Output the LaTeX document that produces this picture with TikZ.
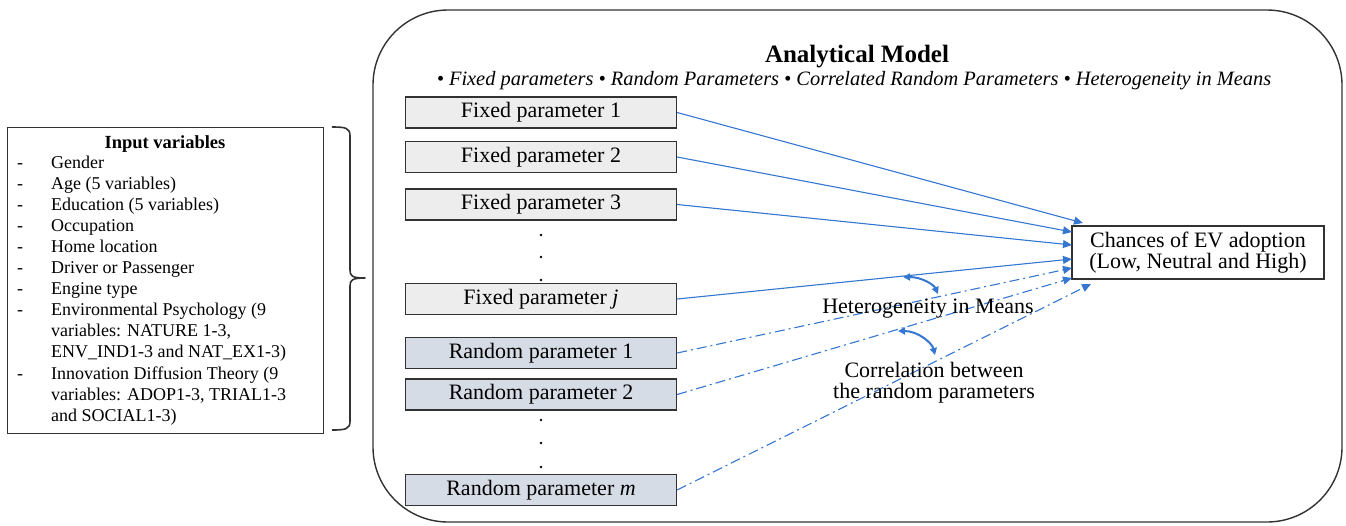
\documentclass[tikz,border=0pt]{standalone}
\usepackage{fontspec}
\setmainfont{Liberation Serif}
\usetikzlibrary{arrows.meta}
\definecolor{arrowblue}{RGB}{52,118,208}
\definecolor{fixfill}{RGB}{237,237,237}
\definecolor{randfill}{RGB}{214,220,229}
\definecolor{edge}{RGB}{50,50,50}
\tikzset{
  base font/.style={font=\fontsize{18}{21.3}\selectfont},
  big font/.style={font=\fontsize{22}{20.5}\selectfont},
  parbox/.style={draw=edge, line width=1.3pt, minimum width=271pt, minimum height=31pt, inner sep=0pt, big font},
  fixedbox/.style={parbox, fill=fixfill},
  randbox/.style={parbox, fill=randfill},
  solidarrow/.style={draw=arrowblue, line width=1.1pt, -{Triangle[length=9pt,width=8pt]}},
  dasharrow/.style={solidarrow, dash pattern=on 10pt off 4pt on 2pt off 4pt},
  bendarrow/.style={draw=arrowblue, line width=2pt, {Triangle[length=7pt,width=7pt]}-{Triangle[length=7pt,width=7pt]}},
  listtext/.style={anchor=base west, inner sep=0pt, base font},
  listdash/.style={anchor=base, inner sep=0pt, base font},
}
\begin{document}
\begin{tikzpicture}[x=1pt,y=-1pt]
\useasboundingbox (0,0) rectangle (1346,525);
% outer model frame
\draw[edge, line width=1.4pt, rounded corners=75pt] (373,10) rectangle (1342,522);
\node[font=\fontsize{25}{26}\selectfont\bfseries, anchor=base] (title) at (857,62) {Analytical Model};
\node[font=\fontsize{20.4}{22}\selectfont\itshape, anchor=base] (subtitle) at (854,85)
  {\textbullet\ Fixed parameters \textbullet\ Random Parameters \textbullet\ Correlated Random Parameters \textbullet\ Heterogeneity in Means};

% parameter boxes
\node[fixedbox] (f1) at (541,112.5) {Fixed parameter 1};
\node[fixedbox] (f2) at (541,157) {Fixed parameter 2};
\node[fixedbox] (f3) at (541,204.5) {Fixed parameter 3};
\node[fixedbox] (fj) at (541,299) {Fixed parameter \textit{j}};
\node[randbox] (r1) at (541,353) {Random parameter 1};
\node[randbox] (r2) at (541,394.5) {Random parameter 2};
\node[randbox] (rm) at (541,490) {Random parameter \textit{m}};
\foreach \yy in {235,257,280,420,443,467} \fill (541,\yy) circle (1.3pt);

% target
\node[draw=edge, line width=1.3pt, minimum width=252pt, minimum height=53pt, inner sep=0pt, align=center, big font] (tgt) at (1198,252.5)
  {Chances of EV adoption\\(Low, Neutral and High)};
\coordinate (t1) at (1083,223);
\coordinate (t2) at (1072,232);
\coordinate (t3) at (1072,245);
\coordinate (tj) at (1072,259);
\coordinate (t4) at (1072,268);
\coordinate (t5) at (1072,278);
\coordinate (t6) at (1091,284);

\draw[solidarrow] (f1.east) -- (t1);
\draw[solidarrow] (f2.east) -- (t2);
\draw[solidarrow] (f3.east) -- (t3);
\draw[solidarrow] (fj.east) -- (tj);
\draw[dasharrow] (r1.east) -- (t4);
\draw[dasharrow] (r2.east) -- (t5);
\draw[dasharrow] (rm.east) -- (t6);

% labels and curved arrows
\node[big font, anchor=base] (het) at (928,313) {Heterogeneity in Means};
\node[big font, anchor=base] (cor) at (934,377) {Correlation between};
\node[big font, anchor=base] (cor2) at (934,398) {the random parameters};
\coordinate (h1) at (903,277); \coordinate (h2) at (938,294);
\coordinate (c1) at (898,331); \coordinate (c2) at (935,355);
\draw[bendarrow] (h1) .. controls (922,277) and (934,285) .. (h2);
\draw[bendarrow] (c1) .. controls (918,331) and (932,343) .. (c2);

% input variables box
\node[draw=edge, line width=1.3pt, minimum width=316pt, minimum height=306pt, inner sep=0pt, anchor=north west] (inp) at (7,127) {};
\node[font=\fontsize{18.5}{21.3}\selectfont\bfseries, anchor=base, inner sep=0pt] (inptitle) at (165,148) {Input variables};
\foreach \i/\d/\t in {0/1/Gender, 1/1/{Age (5 variables)}, 2/1/{Education (5 variables)}, 3/1/Occupation,
   4/1/{Home location}, 5/1/{Driver or Passenger}, 6/1/{Engine type}, 7/1/{Environmental Psychology (9},
   8/0/{variables: NATURE 1-3,}, 9/0/{ENV\_IND1-3 and NAT\_EX1-3)}, 10/1/{Innovation Diffusion Theory (9},
   11/0/{variables: ADOP1-3, TRIAL1-3}, 12/0/{and SOCIAL1-3)}}{
  \node[listtext] (l\i) at (51,168+21.1*\i) {\t};
  \ifnum\d=1 \node[listdash] (d\i) at (20,168+21.1*\i) {-};\fi
}
% brace
\draw[edge, line width=1.6pt, line join=round]
  (332,127) .. controls (346,127) and (350,128) .. (350,136) -- (350,270)
  .. controls (350,276) and (352,278) .. (365,278)
  .. controls (352,278) and (350,280) .. (350,286) -- (350,421)
  .. controls (350,429) and (346,430) .. (332,430);
\end{tikzpicture}
\end{document}
